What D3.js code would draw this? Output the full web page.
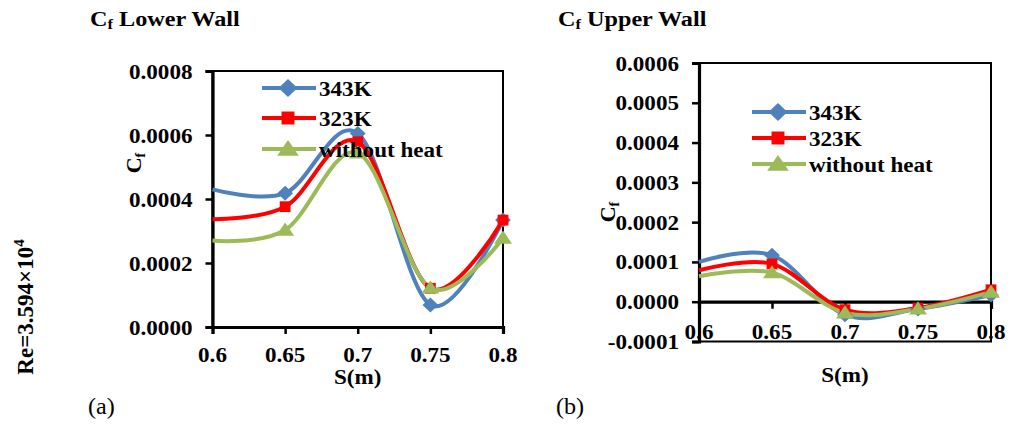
<!DOCTYPE html>
<html>
<head>
<meta charset="utf-8">
<script src="https://cdn.jsdelivr.net/npm/d3@7"></script>
<style>
  html, body { margin: 0; padding: 0; background: #fff; }
  svg { display: block; }
  text { font-family: "Liberation Serif", "Times New Roman", serif; fill: #000; }
</style>
</head>
<body>
<svg id="chart" width="1010" height="425"></svg>
<script>
// Skin-friction coefficient along the channel walls
const positions = [0.6, 0.65, 0.7, 0.75, 0.8];
const xTicks = [0.6, 0.65, 0.7, 0.75, 0.8];
const xTickLabels = ["0.6", "0.65", "0.7", "0.75", "0.8"];

const seriesNames = ["343K", "323K", "without heat"];
const seriesColors = ["#4f81bd", "#ff0000", "#9bbb59"];
const seriesMarkers = ["diamond", "square", "triangle"];

// Lower wall
const lower343 = [0.000430, 0.000418, 0.000605, 0.000069, 0.000334];
const lower323 = [0.000337, 0.000376, 0.000579, 0.000121, 0.000334];
const lowerNoHeat = [0.000270, 0.000303, 0.000544, 0.000122, 0.000278];
const lowerYTicks = [0, 0.0002, 0.0004, 0.0006, 0.0008];

// Upper wall
const upper343 = [0.000100, 0.000117, -0.000033, -0.000018, 0.000017];
const upper323 = [0.000079, 0.000095, -0.000020, -0.000016, 0.000030];
const upperNoHeat = [0.000064, 0.000073, -0.000028, -0.000018, 0.000024];
const upperYTicks = [-0.0001, 0, 0.0001, 0.0002, 0.0003, 0.0004, 0.0005, 0.0006];

const svg = d3.select("#chart");
const STRETCH = 1.1;
const fmt = v => (v < 0 ? "-" : "") + d3.format(".4f")(Math.abs(v));

// Text helper: a slightly wide serif face
function label(g, x, y, str, opts = {}) {
  const t = g.append("text")
    .attr("transform", `translate(${x},${y}) scale(${opts.sx ?? STRETCH},1)`)
    .attr("text-anchor", opts.anchor || "start")
    .attr("font-size", opts.size || 21)
    .attr("font-weight", opts.weight || "bold");
  if (str !== null) t.text(str);
  return t;
}

function markerPath(type, r) {
  if (type === "diamond") return `M0,${-r}L${r * 1.05},0L0,${r}L${-r * 1.05},0Z`;
  if (type === "square") { const s = r * 0.72; return `M${-s},${-s}H${s}V${s}H${-s}Z`; }
  const h = r * 1.0;
  return `M0,${-h}L${r * 1.2},${h * 0.75}L${-r * 1.2},${h * 0.75}Z`;
}

function panel(cfg) {
  const g = svg.append("g");
  const x = d3.scaleLinear().domain([0.6, 0.8]).range([cfg.left, cfg.right]);
  const y = d3.scaleLinear().domain(cfg.yDomain).range([cfg.bottom, cfg.top]);

  // Plot frame
  g.append("rect")
    .attr("x", cfg.left).attr("y", cfg.top)
    .attr("width", cfg.right - cfg.left).attr("height", cfg.bottom - cfg.top)
    .attr("fill", "none").attr("stroke", "#000").attr("stroke-width", 2);

  // Y axis
  const yAxis = g.append("g")
    .attr("transform", `translate(${cfg.left},0)`)
    .call(d3.axisLeft(y).tickValues(cfg.yTicks).tickSize(7).tickFormat(""));
  yAxis.select(".domain").attr("stroke-width", 3.2);
  yAxis.selectAll(".tick line").attr("stroke-width", 2.5);
  cfg.yTicks.forEach(v => label(g, cfg.left - 20, y(v) + 7.5, fmt(v), { anchor: "end" }));

  // X axis (sits on the zero line)
  const xAxis = g.append("g")
    .attr("transform", `translate(0,${y(0)})`)
    .call(d3.axisBottom(x).tickValues(xTicks).tickSize(7).tickFormat(""));
  xAxis.select(".domain").attr("stroke-width", 3.2);
  xAxis.selectAll(".tick line").attr("stroke-width", 2.5);
  xTicks.forEach((v, i) => label(g, x(v), cfg.xLabelY, xTickLabels[i], { anchor: "middle" }));

  // Axis titles
  label(g, (cfg.left + cfg.right) / 2, cfg.xTitleY, "S(m)", { anchor: "middle" });
  const yt = g.append("text")
    .attr("transform", `translate(${cfg.yTitleX},${cfg.yTitleY}) rotate(-90)`)
    .attr("text-anchor", "middle").attr("font-size", 22).attr("font-weight", "bold");
  yt.append("tspan").text("C");
  yt.append("tspan").attr("font-size", 14).attr("dy", 4).text("f");

  // Curves
  const line = d3.line()
    .x((d, i) => x(positions[i]))
    .y(d => y(d))
    .curve(d3.curveCatmullRom.alpha(0));
  cfg.series.forEach((vals, s) => {
    g.append("path").datum(vals)
      .attr("d", line).attr("fill", "none")
      .attr("stroke", seriesColors[s]).attr("stroke-width", 4)
      .attr("stroke-linejoin", "round");
  });
  cfg.series.forEach((vals, s) => {
    g.selectAll(null).data(vals.slice(1)).join("path")
      .attr("transform", (d, i) => `translate(${x(positions[i + 1])},${y(d)})`)
      .attr("d", markerPath(seriesMarkers[s], 7.5))
      .attr("fill", seriesColors[s]);
  });

  // Legend
  seriesNames.forEach((name, s) => {
    const ly = cfg.legendY[s];
    g.append("line")
      .attr("x1", cfg.legendX).attr("x2", cfg.legendX + 54)
      .attr("y1", ly).attr("y2", ly)
      .attr("stroke", seriesColors[s]).attr("stroke-width", 4);
    g.append("path")
      .attr("transform", `translate(${cfg.legendX + 26},${ly})`)
      .attr("d", markerPath(seriesMarkers[s], 9))
      .attr("fill", seriesColors[s]);
    label(g, cfg.legendX + 57, ly + 7.5, name);
  });

  // Panel title
  const tt = label(g, cfg.titleX, 26, null, { size: 22 });
  tt.append("tspan").text("C");
  tt.append("tspan").attr("font-size", 15).attr("dy", 3).text("f");
  tt.append("tspan").attr("dy", -3).text(" " + cfg.title);

  // Panel letter
  label(g, cfg.titleX - 2, 414, cfg.letter, { size: 23, weight: "normal", sx: 1.05 });
}

panel({
  left: 212.5, right: 503, top: 71, bottom: 327,
  yDomain: [0, 0.0008], yTicks: lowerYTicks,
  series: [lower343, lower323, lowerNoHeat],
  xLabelY: 362, xTitleY: 384, yTitleX: 141, yTitleY: 163,
  legendX: 262, legendY: [88, 118, 149],
  titleX: 90, title: "Lower Wall", letter: "(a)"
});

panel({
  left: 699, right: 991, top: 63, bottom: 341.5,
  yDomain: [-0.0001, 0.0006], yTicks: upperYTicks,
  series: [upper343, upper323, upperNoHeat],
  xLabelY: 339, xTitleY: 382, yTitleX: 615, yTitleY: 212,
  legendX: 752, legendY: [112, 138, 164],
  titleX: 558, title: "Upper Wall", letter: "(b)"
});

// Flow condition label
const re = svg.append("text")
  .attr("transform", "translate(33,307) rotate(-90)")
  .attr("text-anchor", "middle").attr("font-size", 23).attr("font-weight", "bold");
re.append("tspan").text("Re=3.594×10");
re.append("tspan").attr("font-size", 15).attr("dy", -9).text("4");
</script>
</body>
</html>
